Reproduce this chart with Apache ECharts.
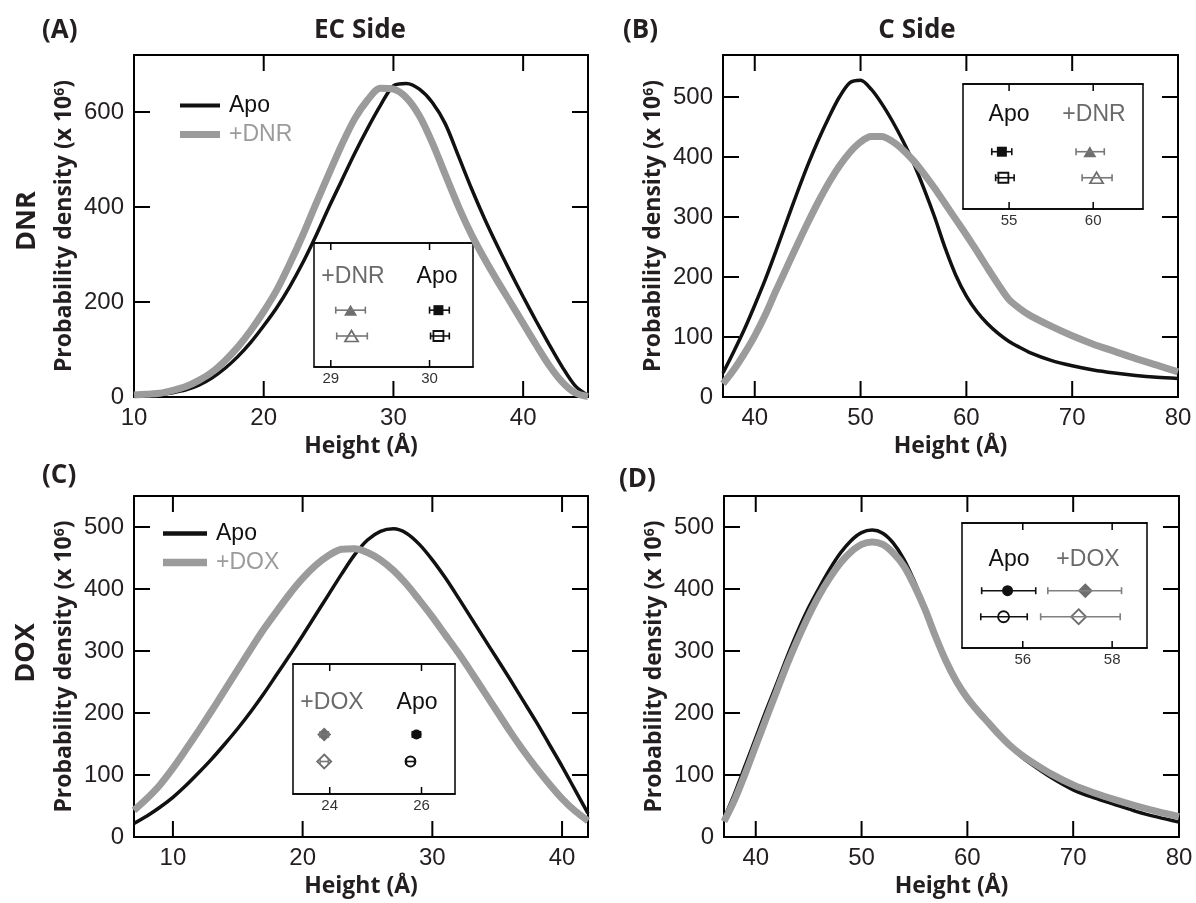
<!DOCTYPE html>
<html>
<head>
<meta charset="utf-8">
<script src="https://cdn.jsdelivr.net/npm/echarts@6/dist/echarts.min.js"></script>
<style>
    html, body { margin: 0; padding: 0; background: #fff; }
    #main { width: 1196px; height: 903px; }
</style>
</head>
<body>
<div id="main"></div>
<script>
// ---- panel A (EC side, DNR) ----
var heightA = [10, 11, 12, 13, 14, 15, 16, 17, 18, 19, 20, 21, 22, 23, 24, 25, 26, 27, 28, 29, 30, 31, 32, 33, 34, 35, 36, 37, 38, 39, 40, 41, 42, 43, 44, 45];
var apoA = [2, 3, 5, 9, 15, 25, 40, 60, 85, 115, 150, 188, 232, 282, 338, 398, 455, 512, 565, 614, 655, 660, 648, 620, 575, 508, 440, 377, 319, 264, 211, 160, 111, 64, 24, 3];
var dnrA = [4, 6, 8, 14, 22, 35, 52, 76, 105, 140, 180, 225, 280, 340, 405, 468, 530, 585, 625, 650, 648, 630, 592, 535, 468, 402, 343, 292, 245, 200, 155, 110, 67, 32, 9, 1];

// ---- panel B (C side, DNR) ----
var heightB = [37, 38, 39, 40, 41, 42, 43, 44, 45, 46, 47, 48, 49, 50, 51, 52, 53, 54, 55, 56, 57, 58, 59, 60, 61, 62, 63, 64, 65, 66, 68, 70, 72, 74, 76, 78, 80];
var apoB = [40, 75, 112, 153, 196, 243, 292, 340, 386, 428, 466, 500, 524, 528, 513, 489, 460, 427, 390, 347, 300, 248, 203, 168, 142, 122, 106, 93, 83, 74, 61, 52, 45, 40, 36, 33, 31];
var dnrB = [22, 45, 72, 102, 137, 177, 215, 253, 290, 325, 357, 385, 408, 425, 434, 434, 426, 412, 394, 372, 348, 322, 296, 270, 243, 215, 188, 163, 148, 136, 118, 102, 88, 76, 64, 53, 42];

// ---- panel C (EC side, DOX) ----
var heightC = [7, 8, 9, 10, 11, 12, 13, 14, 15, 16, 17, 18, 19, 20, 21, 22, 23, 24, 25, 26, 27, 28, 29, 30, 31, 32, 33, 34, 35, 36, 37, 38, 39, 40, 41, 42];
var apoC = [22, 34, 48, 64, 83, 104, 126, 150, 175, 202, 231, 262, 293, 325, 358, 391, 424, 455, 479, 493, 497, 490, 472, 447, 418, 386, 353, 320, 287, 254, 220, 186, 150, 114, 76, 38];
var doxC = [43, 62, 84, 111, 141, 172, 204, 237, 270, 303, 335, 364, 392, 417, 438, 454, 464, 465, 459, 447, 430, 408, 382, 355, 326, 297, 266, 234, 202, 170, 140, 112, 86, 62, 42, 26];

// ---- panel D (C side, DOX) ----
var heightD = [37, 38, 39, 40, 41, 42, 43, 44, 45, 46, 47, 48, 49, 50, 51, 52, 53, 54, 55, 56, 57, 58, 59, 60, 61, 62, 63, 64, 65, 66, 68, 70, 72, 74, 76, 78, 80];
var apoD = [30, 70, 115, 160, 205, 248, 292, 333, 370, 402, 432, 458, 478, 491, 495, 490, 474, 448, 412, 370, 322, 280, 248, 222, 202, 183, 163, 146, 131, 118, 95, 76, 63, 52, 41, 32, 24];
var doxD = [25, 60, 102, 147, 192, 236, 280, 320, 357, 390, 418, 442, 460, 472, 476, 472, 458, 437, 405, 367, 323, 283, 250, 224, 203, 184, 165, 148, 134, 122, 101, 84, 71, 60, 50, 41, 33];

// insets: each row = [mean, low, high]; first row filled marker, second open
var insetA_dnr = [[29.20, 29.05, 29.35], [29.21, 29.06, 29.37]];
var insetA_apo = [[30.09, 30.00, 30.20], [30.09, 30.01, 30.20]];
var insetB_apo = [[54.57, 53.97, 55.16], [54.66, 54.20, 55.30]];
var insetB_dnr = [[59.80, 58.98, 60.66], [60.20, 59.34, 61.12]];
var insetC_dox = [[23.88, 23.79, 23.97], [23.88, 23.79, 23.97]];
var insetC_apo = [[25.89, 25.80, 25.98], [25.76, 25.67, 25.85]];
var insetD_apo = [[55.66, 55.08, 56.29], [55.57, 55.06, 56.10]];
var insetD_dox = [[57.40, 56.56, 58.21], [57.25, 56.40, 58.18]];
var insetRowY = [2, 1];

// tick labels
var ticksA_x = [10, 20, 30, 40];
var ticksA_y = [0, 200, 400, 600];
var ticksB_x = [40, 50, 60, 70, 80];
var ticksB_y = [0, 100, 200, 300, 400, 500];
var ticksC_x = [10, 20, 30, 40];
var ticksD_x = [40, 50, 60, 70, 80];
var ticksCD_y = [0, 100, 200, 300, 400, 500];

var BLACK = '#111111';
var GREY = '#9b9b9b';
var MARK_GREY = '#6e6e6e';
var TEXT = '#231f20';

var xAxes = [];
var yAxes = [];
var series = [];

var tickFont = {fontFamily: 'Liberation Sans', fontSize: 24, color: TEXT};
var boldFont = {fontFamily: 'Open Sans', fontWeight: 'bold', fontSize: 23, color: TEXT};

// inward tick marks on a frame: one custom series, every data point sits inside the plot
function tickSeries(xi, yi, xr, yr, xticks, yticks, len, w) {
    var xMid = (xr[0] + xr[1]) / 2, yMid = (yr[0] + yr[1]) / 2;
    var data = [];
    var i;
    for (i = 0; i < xticks.length; i++) {
        if (xticks[i] > xr[0] && xticks[i] < xr[1]) data.push([xticks[i], yMid, 0]);
    }
    for (i = 0; i < yticks.length; i++) {
        if (yticks[i] > yr[0] && yticks[i] < yr[1]) data.push([xMid, yticks[i], 1]);
    }
    series.push({
        type: 'custom', xAxisIndex: xi, yAxisIndex: yi, data: data, z: 9, silent: true,
        encode: {x: 0, y: 1},
        renderItem: function (params, api) {
            var st = {stroke: '#000', lineWidth: w};
            var lo = api.coord([xr[0], yr[0]]);
            var hi = api.coord([xr[1], yr[1]]);
            var p = api.coord([api.value(0), api.value(1)]);
            if (api.value(2) === 0) {
                return {
                    type: 'group', children: [
                        {type: 'line', shape: {x1: p[0], y1: lo[1], x2: p[0], y2: lo[1] - len}, style: st},
                        {type: 'line', shape: {x1: p[0], y1: hi[1], x2: p[0], y2: hi[1] + len}, style: st}
                    ]
                };
            }
            return {
                type: 'group', children: [
                    {type: 'line', shape: {x1: lo[0], y1: p[1], x2: lo[0] + len, y2: p[1]}, style: st},
                    {type: 'line', shape: {x1: hi[0], y1: p[1], x2: hi[0] - len, y2: p[1]}, style: st}
                ]
            };
        }
    });
}

function mainAxes(gi, xmin, xmax, xticks, ymax, yticks, yStep) {
    var line = {show: true, onZero: false, lineStyle: {color: '#000', width: 2}};
    var noTick = {show: false};
    var yTick = {show: true, inside: true, length: 16, lineStyle: {color: '#000', width: 2}};
    xAxes.push({
        gridIndex: gi, type: 'value', min: xmin, max: xmax, position: 'bottom',
        name: 'Height (Å)', nameLocation: 'middle', nameGap: 38, nameTextStyle: boldFont,
        axisLine: line, axisTick: noTick,
        axisLabel: {customValues: xticks, margin: 9, fontFamily: tickFont.fontFamily, fontSize: tickFont.fontSize, color: TEXT},
        splitLine: {show: false}
    });
    xAxes.push({
        gridIndex: gi, type: 'value', min: xmin, max: xmax, position: 'top',
        axisLine: line, axisTick: noTick, axisLabel: {show: false}, splitLine: {show: false}
    });
    yAxes.push({
        gridIndex: gi, type: 'value', min: 0, max: ymax, interval: yStep, position: 'left',
        name: '{b|Probability density (x 10}{s|6}{b|)}', nameLocation: 'middle', nameGap: 58, nameRotate: 90,
        nameTextStyle: {
            rich: {
                b: boldFont,
                s: {fontFamily: 'Open Sans', fontWeight: 'bold', fontSize: 14, color: TEXT, verticalAlign: 'top'}
            }
        },
        axisLine: line, axisTick: yTick,
        axisLabel: {customValues: yticks, margin: 10, fontFamily: tickFont.fontFamily, fontSize: tickFont.fontSize, color: TEXT},
        splitLine: {show: false}
    });
    yAxes.push({
        gridIndex: gi, type: 'value', min: 0, max: ymax, interval: yStep, position: 'right',
        axisLine: line, axisTick: yTick, axisLabel: {show: false}, splitLine: {show: false}
    });
    tickSeries(gi * 2, gi * 2, [xmin, xmax], [0, ymax], xticks, yticks, 16, 2);
}

function insetAxes(gi, xmin, xmax, xticks) {
    var line = {show: true, onZero: false, lineStyle: {color: '#000', width: 1.5}};
    var xi = 8 + (gi - 4) * 2, yi = 8 + (gi - 4);
    xAxes.push({
        gridIndex: gi, type: 'value', min: xmin, max: xmax, position: 'bottom',
        axisLine: line, axisTick: {show: false},
        axisLabel: {customValues: xticks, margin: 4, fontFamily: 'Liberation Sans', fontSize: 15, color: '#333'},
        splitLine: {show: false}
    });
    xAxes.push({
        gridIndex: gi, type: 'value', min: xmin, max: xmax, position: 'top',
        axisLine: line, axisTick: {show: false}, axisLabel: {show: false}, splitLine: {show: false}
    });
    yAxes.push({gridIndex: gi, type: 'value', min: -0.2, max: 4.6, show: false});
    tickSeries(xi, yi, [xmin, xmax], [-0.2, 4.6], xticks, [], 7, 1.5);
}

function curve(name, gi, xs, ys, color, width, z) {
    var pts = [];
    for (var i = 0; i < xs.length; i++) {
        pts.push([xs[i], ys[i]]);
    }
    series.push({
        name: name, type: 'line', xAxisIndex: gi * 2, yAxisIndex: gi * 2,
        data: pts, smooth: 0.3, symbol: 'none', showSymbol: false, silent: true, z: z,
        lineStyle: {color: color, width: width}, itemStyle: {color: color}
    });
}

function errorBars(gi, rows, color) {
    var data = [];
    for (var i = 0; i < rows.length; i++) {
        data.push([rows[i][0], rows[i][1], rows[i][2], insetRowY[i]]);
    }
    series.push({
        type: 'custom', xAxisIndex: 8 + (gi - 4) * 2, yAxisIndex: 8 + (gi - 4), data: data, z: 7, silent: true,
        renderItem: function (params, api) {
            var y = api.value(3);
            var a = api.coord([api.value(1), y]);
            var b = api.coord([api.value(2), y]);
            var st = {stroke: color, lineWidth: 1.6};
            return {
                type: 'group', children: [
                    {type: 'line', shape: {x1: a[0], y1: a[1], x2: b[0], y2: b[1]}, style: st},
                    {type: 'line', shape: {x1: a[0], y1: a[1] - 3.5, x2: a[0], y2: a[1] + 3.5}, style: st},
                    {type: 'line', shape: {x1: b[0], y1: b[1] - 3.5, x2: b[0], y2: b[1] + 3.5}, style: st}
                ]
            };
        }
    });
}

function markers(gi, rows, symbol, size, color) {
    var xi = 8 + (gi - 4) * 2, yi = 8 + (gi - 4);
    series.push({
        type: 'scatter', xAxisIndex: xi, yAxisIndex: yi, silent: true, z: 6,
        data: [[rows[0][0], insetRowY[0]]], symbol: symbol, symbolSize: size,
        itemStyle: {color: color, opacity: 1}
    });
    series.push({
        type: 'scatter', xAxisIndex: xi, yAxisIndex: yi, silent: true, z: 6,
        data: [[rows[1][0], insetRowY[1]]], symbol: symbol, symbolSize: size,
        itemStyle: {color: '#fff', borderColor: color, borderWidth: 1.8, opacity: 1}
    });
}

var grids = [
    {left: 134, top: 55, width: 454, height: 342},
    {left: 723, top: 55, width: 455, height: 342},
    {left: 134, top: 496, width: 454, height: 341},
    {left: 724, top: 496, width: 455, height: 341},
    {left: 314, top: 243, width: 159, height: 124, show: true, borderColor: '#000', borderWidth: 1.5},
    {left: 963, top: 84, width: 180, height: 125, show: true, borderColor: '#000', borderWidth: 1.5},
    {left: 293, top: 664, width: 162, height: 130, show: true, borderColor: '#000', borderWidth: 1.5},
    {left: 962, top: 523, width: 185, height: 125, show: true, borderColor: '#000', borderWidth: 1.5}
];

mainAxes(0, 10, 45, ticksA_x, 720, ticksA_y, 200);
mainAxes(1, 37, 80, ticksB_x, 570, ticksB_y, 100);
mainAxes(2, 7, 42, ticksC_x, 550, ticksCD_y, 100);
mainAxes(3, 37, 80, ticksD_x, 550, ticksCD_y, 100);
insetAxes(4, 28.83, 30.44, [29, 30]);
insetAxes(5, 52.26, 62.96, [55, 60]);
insetAxes(6, 23.2, 26.73, [24, 26]);
insetAxes(7, 54.64, 58.78, [56, 58]);

curve('Apo', 0, heightA, apoA, BLACK, 3.5, 2);
curve('+DNR', 0, heightA, dnrA, GREY, 7, 3);
curve('Apo', 1, heightB, apoB, BLACK, 3.5, 2);
curve('+DNR', 1, heightB, dnrB, GREY, 7, 3);
curve('Apo', 2, heightC, apoC, BLACK, 3.5, 2);
curve('+DOX', 2, heightC, doxC, GREY, 7, 3);
curve('Apo', 3, heightD, apoD, BLACK, 3.5, 2);
curve('+DOX', 3, heightD, doxD, GREY, 7, 3);

errorBars(4, insetA_dnr, '#777');
errorBars(4, insetA_apo, BLACK);
markers(4, insetA_dnr, 'triangle', [13, 11], MARK_GREY);
markers(4, insetA_apo, 'rect', 10, BLACK);

errorBars(5, insetB_apo, BLACK);
errorBars(5, insetB_dnr, '#777');
markers(5, insetB_apo, 'rect', 10, BLACK);
markers(5, insetB_dnr, 'triangle', [13, 11], MARK_GREY);

errorBars(6, insetC_dox, '#777');
errorBars(6, insetC_apo, BLACK);
markers(6, insetC_dox, 'diamond', 14, MARK_GREY);
markers(6, insetC_apo, 'circle', 10, BLACK);

errorBars(7, insetD_apo, BLACK);
errorBars(7, insetD_dox, '#808080');
markers(7, insetD_apo, 'circle', 11, BLACK);
markers(7, insetD_dox, 'diamond', 15, MARK_GREY);

function txt(s, x, y, font, color, align, rot) {
    return {
        type: 'text', x: x, y: y, rotation: rot || 0, silent: true, z: 10,
        style: {text: s, font: font, fill: color, textAlign: align || 'center', textVerticalAlign: 'middle'}
    };
}

var bigBold = 'bold 26px "Open Sans"';
var insetFont = '23px "Liberation Sans"';
var blackIcon = 'path://M0,0 L40,0 L40,4 L0,4 Z';
var greyIcon = 'path://M0,0 L40,0 L40,7 L0,7 Z';

var myChart = echarts.init(document.getElementById('main'));
option = {
    backgroundColor: '#fff',
    animation: false,
    grid: grids,
    xAxis: xAxes,
    yAxis: yAxes,
    legend: [
        {
            left: 175, top: 89, orient: 'vertical', itemWidth: 40, itemHeight: 14, itemGap: 6,
            selectedMode: false,
            textStyle: {fontFamily: 'Liberation Sans', fontSize: 23, padding: [0, 0, 0, 4]},
            data: [
                {name: 'Apo', icon: blackIcon, textStyle: {color: BLACK}},
                {name: '+DNR', icon: greyIcon, textStyle: {color: GREY}}
            ]
        },
        {
            left: 158, top: 517, orient: 'vertical', itemWidth: 44, itemHeight: 14, itemGap: 6,
            selectedMode: false,
            textStyle: {fontFamily: 'Liberation Sans', fontSize: 23, padding: [0, 0, 0, 4]},
            data: [
                {name: 'Apo', icon: blackIcon, textStyle: {color: BLACK}},
                {name: '+DOX', icon: greyIcon, textStyle: {color: GREY}}
            ]
        }
    ],
    graphic: [
        txt('(A)', 42, 31, bigBold, TEXT, 'left'),
        txt('EC Side', 360, 31, bigBold, TEXT),
        txt('(B)', 623, 31, bigBold, TEXT, 'left'),
        txt('C Side', 917, 31, bigBold, TEXT),
        txt('(C)', 42, 476, bigBold, TEXT, 'left'),
        txt('(D)', 619, 480, bigBold, TEXT, 'left'),
        txt('DNR', 27, 221, 'bold 27px "Open Sans"', TEXT, 'center', Math.PI / 2),
        txt('DOX', 26, 653, 'bold 27px "Open Sans"', TEXT, 'center', Math.PI / 2),
        txt('+DNR', 353, 277, insetFont, '#6a6a6a'),
        txt('Apo', 437, 277, insetFont, BLACK),
        txt('Apo', 1009, 115, insetFont, BLACK),
        txt('+DNR', 1094, 115, insetFont, '#6a6a6a'),
        txt('+DOX', 332, 703, insetFont, '#6a6a6a'),
        txt('Apo', 417, 703, insetFont, BLACK),
        txt('Apo', 1009, 560, insetFont, BLACK),
        txt('+DOX', 1088, 560, insetFont, '#6a6a6a')
    ],
    series: series
};
myChart.setOption(option);
</script>
</body>
</html>
